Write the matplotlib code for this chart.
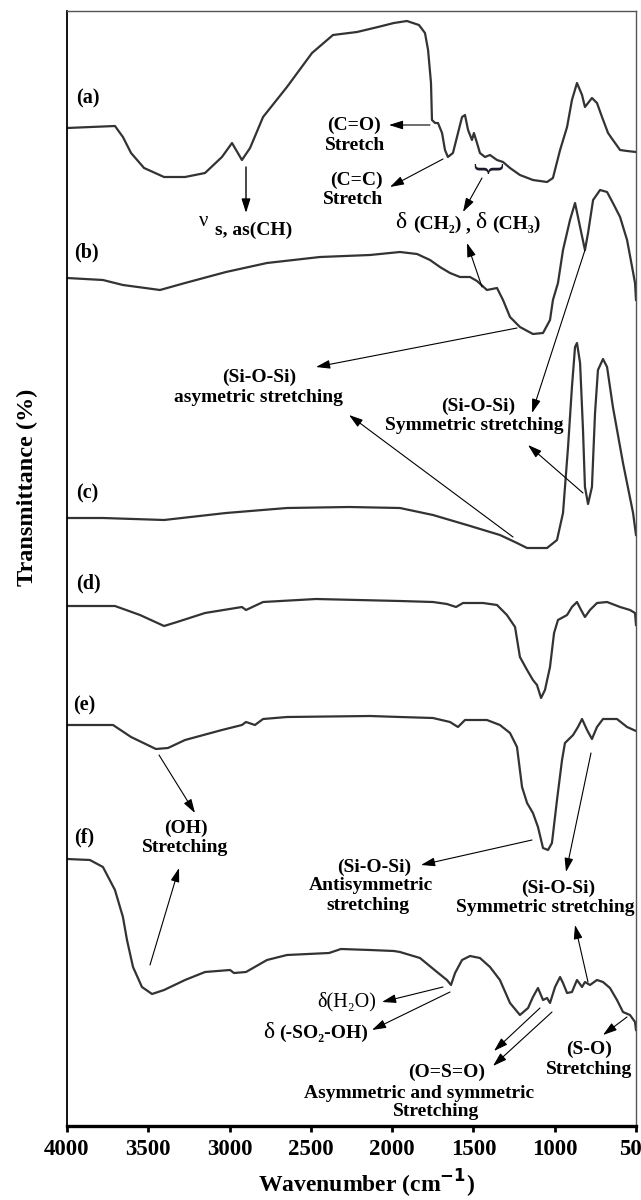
import matplotlib
matplotlib.use("Agg")
import matplotlib.pyplot as plt

# ---------------- data (wavenumber cm-1, stacked transmittance, arbitrary units) -------------
wn_a = [4000, 3705, 3656, 3606, 3526, 3403, 3274, 3151, 3047, 2985, 2924, 2874, 2794, 2647, 2493,
        2364, 2216, 2087, 1989, 1909, 1835, 1798, 1779, 1761, 1755, 1736, 1718, 1693, 1675, 1657,
        1626, 1595, 1570, 1552, 1533, 1509, 1497, 1478, 1460, 1429, 1398, 1355, 1318, 1275, 1214,
        1134, 1047, 1011, 967, 924, 894, 863, 832, 814, 771, 740, 709, 672, 642, 598, 555, 500]
t_a = [998, 1000, 989, 973, 958, 949, 949, 953, 969, 983, 966, 978, 1009, 1039, 1073,
       1091, 1094, 1099, 1103, 1105, 1101, 1093, 1076, 1043, 1006, 1003, 1003, 993, 976, 969,
       973, 993, 1009, 1011, 996, 986, 993, 983, 973, 969, 971, 966, 964, 958, 951,
       946, 944, 948, 976, 999, 1026, 1043, 1031, 1019, 1028, 1023, 1009, 993, 986, 976, 975, 974]

wn_b = [4000, 3779, 3656, 3428, 3274, 3022, 2770, 2444, 2136, 1952, 1847, 1767, 1706, 1644, 1583,
        1521, 1478, 1417, 1355, 1318, 1275, 1214, 1134, 1072, 1029, 1011, 980, 949, 906, 875,
        844, 814, 795, 764, 721, 678, 642, 598, 555, 524, 506, 500]
t_b = [848, 846, 841, 836, 843, 854, 863, 869, 871, 874, 872, 866, 859, 853, 849,
       849, 845, 836, 838, 826, 809, 799, 792, 793, 806, 826, 843, 876, 906, 923,
       899, 876, 893, 926, 936, 934, 923, 909, 886, 859, 843, 826]

wn_c = [4000, 3779, 3403, 3022, 2647, 2265, 1952, 1749, 1540, 1337, 1232, 1170, 1047, 986, 949,
        918, 894, 875, 863, 844, 826, 814, 795, 771, 752, 734, 703, 678, 642, 580, 518, 500]
t_c = [608, 608, 606, 613, 618, 619, 618, 611, 601, 591, 583, 578, 578, 586, 613,
       679, 739, 779, 783, 763, 696, 639, 622, 639, 713, 756, 767, 759, 719, 663, 613, 591]

wn_d = [4000, 3705, 3551, 3403, 3323, 3151, 2924, 2899, 2794, 2468, 1952, 1749, 1663, 1607, 1564,
        1441, 1355, 1294, 1244, 1214, 1170, 1134, 1109, 1084, 1060, 1029, 1004, 980, 924, 894,
        863, 838, 814, 783, 740, 678, 598, 537, 506, 500]
t_d = [520, 520, 511, 500, 504, 513, 519, 516, 524, 527, 525, 524, 522, 519, 523,
       523, 521, 511, 499, 469, 456, 446, 441, 428, 436, 459, 493, 506, 511, 519,
       524, 516, 509, 516, 523, 524, 519, 516, 513, 501]

wn_e = [4000, 3717, 3606, 3453, 3379, 3274, 3047, 2924, 2899, 2844, 2794, 2647, 2136, 1952, 1749,
        1644, 1595, 1552, 1417, 1337, 1275, 1232, 1201, 1170, 1134, 1103, 1072, 1041, 1017, 986,
        955, 937, 887, 857, 832, 801, 771, 740, 703, 617, 555, 500]
t_e = [401, 401, 389, 377, 378, 386, 396, 401, 404, 401, 407, 409, 410, 409, 408,
       404, 399, 406, 406, 401, 393, 379, 339, 323, 313, 299, 278, 276, 283, 326,
       366, 383, 391, 399, 407, 396, 387, 399, 407, 407, 399, 395]

wn_f = [4000, 3859, 3779, 3705, 3656, 3631, 3594, 3539, 3477, 3403, 3274, 3151, 2997, 2973, 2899,
        2770, 2647, 2388, 2315, 2136, 1989, 1952, 1829, 1724, 1663, 1638, 1613, 1570, 1521, 1460,
        1398, 1337, 1275, 1214, 1164, 1134, 1103, 1072, 1047, 1029, 998, 967, 949, 924, 894,
        863, 832, 814, 783, 740, 703, 660, 617, 580, 537, 506, 500]
t_f = [267, 266, 259, 236, 209, 186, 159, 139, 132, 136, 146, 154, 156, 153, 154,
       166, 171, 173, 177, 176, 175, 174, 168, 154, 146, 141, 153, 166, 170, 168,
       159, 146, 123, 111, 118, 129, 138, 126, 128, 123, 139, 149, 143, 133, 134,
       146, 139, 144, 141, 146, 144, 138, 126, 114, 111, 104, 96]

sample_labels = ["(a)", "(b)", "(c)", "(d)", "(e)", "(f)"]
x_ticks = [4000, 3500, 3000, 2500, 2000, 1500, 1000, 500]

# ---------------- figure ----------------
W, H = 641, 1200
fig = plt.figure(figsize=(W / 100, H / 100), dpi=100)
AX_L, AX_R, AX_T, AX_B = 67, 636, 11, 1126
ax = fig.add_axes([AX_L / W, 1 - AX_B / H, (AX_R - AX_L) / W, (AX_B - AX_T) / H])
ax.set_xlim(4000, 500)
ax.set_ylim(0, AX_B - AX_T)

SERIF = ["Liberation Serif", "DejaVu Serif"]
FS = 14


def P(x, y):
    """pixel position in the picture -> data coordinates"""
    return (4000 - (x - AX_L) * 3500.0 / (AX_R - AX_L), AX_B - y)


curve_color = "#333333"
for wn, t in [(wn_a, t_a), (wn_b, t_b), (wn_c, t_c), (wn_d, t_d), (wn_e, t_e), (wn_f, t_f)]:
    ax.plot(wn, t, color=curve_color, lw=1.6, solid_joinstyle="round", clip_on=True)

# spines / ticks
for s in ["top", "right"]:
    ax.spines[s].set_color("#555555")
    ax.spines[s].set_linewidth(1.0)
ax.spines["left"].set_color("black")
ax.spines["left"].set_linewidth(1.3)
ax.spines["bottom"].set_color("black")
ax.spines["bottom"].set_linewidth(2.4)
ax.set_yticks([])
ax.set_xticks(x_ticks)
ax.set_xticklabels([str(v) for v in x_ticks])
ax.tick_params(axis="x", direction="out", length=4.5, width=2, pad=5)
for lab in ax.get_xticklabels():
    lab.set_fontfamily(SERIF)
    lab.set_fontweight("bold")
    lab.set_fontsize(16.5)

fig.text(366 / W, 1 - 1184 / H, r"Wavenumber (cm$^{\mathbf{-1}}$)", ha="center", va="center",
         fontsize=17, fontweight="bold", family=SERIF)
fig.text(27 / W, 1 - 487 / H, "Transmittance (%)", ha="center", va="center", rotation=90,
         fontsize=17.5, fontweight="bold", family=SERIF)

# sample labels
label_pos = [(76, 98), (74, 252), (76, 493), (76, 583), (73, 705), (74, 837)]
for lab, (x, y) in zip(sample_labels, label_pos):
    ax.text(*P(x, y), lab, ha="left", va="center", fontsize=14.5, fontweight="bold", family=SERIF)


def T(x, y, s, bold=True, size=FS, ha="center"):
    ax.text(*P(x, y), s, ha=ha, va="center", fontsize=size,
            fontweight="bold" if bold else "normal", family=SERIF)


def A(tail, head, lw=0.8):
    ax.annotate("", xy=P(*head), xytext=P(*tail),
                arrowprops=dict(arrowstyle="-|>,head_length=0.7,head_width=0.22",
                                color="black", lw=lw, shrinkA=0, shrinkB=0, mutation_scale=12))


# (a) annotations
T(354, 125, "(C=O)")
T(355, 146, "Stretch")
A((430, 125), (389, 125))
T(356, 180, "(C=C)")
T(353, 200, "Stretch")
A((443, 159), (390, 187))
A((246, 167), (246, 213), lw=1.0)
T(204, 221, "ν", bold=False, size=15)
T(215, 230, "s, as(CH)", ha="left")
ax.text(*P(484, 171), "}", rotation=-90, ha="center", va="center", fontsize=24,
        family=SERIF, color="#1a1a2a")
A((482, 178), (463, 212))
T(401, 222, "δ", bold=False, size=17)
T(437, 224, "(CH₂)")
T(468, 226, ",")
T(481, 222, "δ", bold=False, size=17)
T(516, 224, "(CH₃)")

# (b)/(c) annotations
A((482, 287), (467, 243))
A((517, 328), (316, 367))
T(259, 377, "(Si-O-Si)")
T(258, 398, "asymetric stretching")
A((513, 537), (349, 415))
A((585, 250), (532, 413))
T(478, 406, "(Si-O-Si)")
T(474, 425, "Symmetric stretching")
A((583, 493), (528, 445))

# (e) annotations
A((159, 755), (195, 813))
T(186, 828, "(OH)")
T(185, 848, "Stretching")
A((532, 840), (421, 865))
T(374, 867, "(Si-O-Si)")
T(371, 886, "Antisymmetric")
T(368, 905, "stretching")
A((591, 753), (566, 872))
T(558, 888, "(Si-O-Si)")
T(545, 908, "Symmetric stretching")

# (f) annotations
A((150, 965), (179, 868))
A((588, 982), (575, 925))
A((443, 987), (382, 1002))
T(347, 1002, "δ(H₂O)", bold=False, size=14.5)
A((450, 992), (372, 1030))
T(269, 1033, "δ", bold=False, size=17)
T(324, 1033, "(-SO₂-OH)")
A((540, 1008), (494, 1051))
A((552, 1012), (493, 1066))
T(447, 1072, "(O=S=O)")
T(419, 1093, "Asymmetric and symmetric")
T(436, 1112, "Stretching")
A((627, 1017), (603, 1035))
T(589, 1049, "(S-O)")
T(589, 1070, "Stretching")

fig.savefig("out.png", dpi=100)
